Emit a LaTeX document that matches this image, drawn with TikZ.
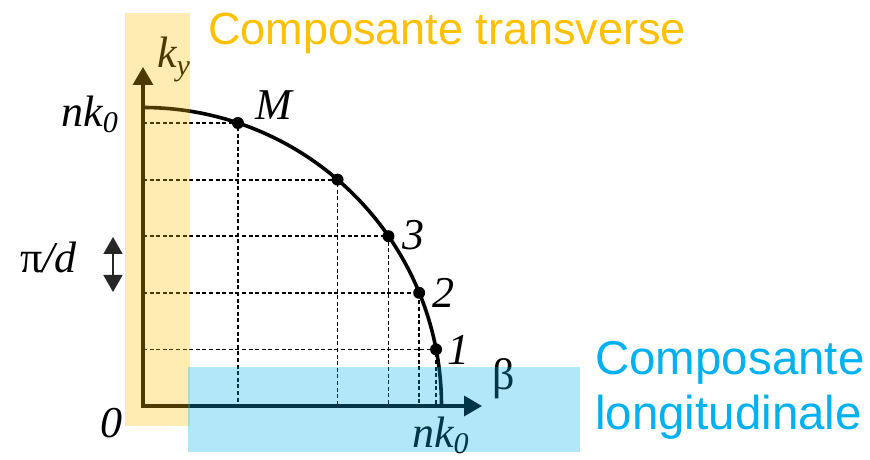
\documentclass[tikz,border=0pt]{standalone}
\usepackage{fontspec}
\setmainfont{Liberation Serif}
\newfontfamily\arialfont{Liberation Sans}
\usetikzlibrary{arrows.meta}
\definecolor{mygold}{RGB}{255,192,0}
\definecolor{mycyan}{RGB}{0,176,240}
\newcommand{\labfont}{\fontsize{44}{48}\selectfont\itshape}
\newcommand{\subfont}{\fontsize{30}{30}\selectfont\itshape}
\newcommand{\nkzero}{nk\raisebox{-6pt}{\subfont 0}}

\begin{document}
\begin{tikzpicture}[x=1pt,y=1pt,line join=miter,
    lab/.style={inner sep=0pt,font=\labfont},
    title/.style={inner sep=0pt,font=\arialfont\fontsize{45}{50}\selectfont},
    gridline/.style={line width=1.8pt,dash pattern=on 4pt off 2.6pt},
    axis/.style={line width=3.4pt,{Triangle[length=18pt,width=20pt]}-{Triangle[length=18pt,width=20pt]}}]
        \useasboundingbox (-143,-54) rectangle (727,406);
        \coordinate (o) at (0,0);
        \coordinate (kyend) at (0,339);
        \coordinate (betaend) at (339,0);
        % points on the circle, one step pi/d apart
        \foreach \m in {1,...,5} {
          \coordinate (p\m) at ({asin(\m*56.6/298.5)}:298.5);
          \draw[gridline] (o |- p\m) -- (p\m) -- (p\m |- o);
        }
        \draw[line width=3.6pt] (0,298.5) arc[start angle=90,end angle=0,radius=298.5];
        \foreach \m in {1,...,5} \fill (p\m) circle (6pt);
        \draw[axis] (kyend) -- (o) -- (betaend);
        % labels
        \node[lab,anchor=base west] (ky) at (14,338) {k\raisebox{-8pt}{\subfont y}};
        \node[lab,anchor=base east] (nkleft) at (-25,279) {\nkzero};
        \node[lab,anchor=base west] (lblM) at (112,286) {M};
        \node[lab,anchor=base west] (lbl3) at (259,156) {3};
        \node[lab,anchor=base west] (lbl2) at (289,98) {2};
        \node[lab,anchor=base west] (lbl1) at (304,41) {1};
        \node[lab,anchor=base west] (beta) at (349,16) {\upshape β};
        \node[lab,anchor=base west] (nkbot) at (269,-42) {\nkzero};
        \node[lab,anchor=base west] (zero) at (-43,-32) {0};
        \node[lab,anchor=base west] (period) at (-123,133) {{\upshape π}/d};
        \coordinate (dtop) at (-30,169);
        \coordinate (dbot) at (-30,114);
        \draw[line width=1.8pt,black!85,{Triangle[length=17pt,width=19pt]}-{Triangle[length=17pt,width=19pt]}] (dtop) -- (dbot);
        % coloured bands
        \fill[mygold,fill opacity=0.3] (-18,-20) rectangle (47,393);
        \fill[mycyan,fill opacity=0.3] (45,-46) rectangle (437,39);
        \node[title,mygold,anchor=base west] (transv) at (65,361) {Composante transverse};
        \node[title,mycyan,anchor=base west,font=\arialfont\fontsize{47.5}{50}\selectfont] (longi1) at (452,31) {Composante};
        \node[title,mycyan,anchor=base west,font=\arialfont\fontsize{47.5}{50}\selectfont] (longi2) at (452,-24) {longitudinale};
      \end{tikzpicture}
\end{document}
